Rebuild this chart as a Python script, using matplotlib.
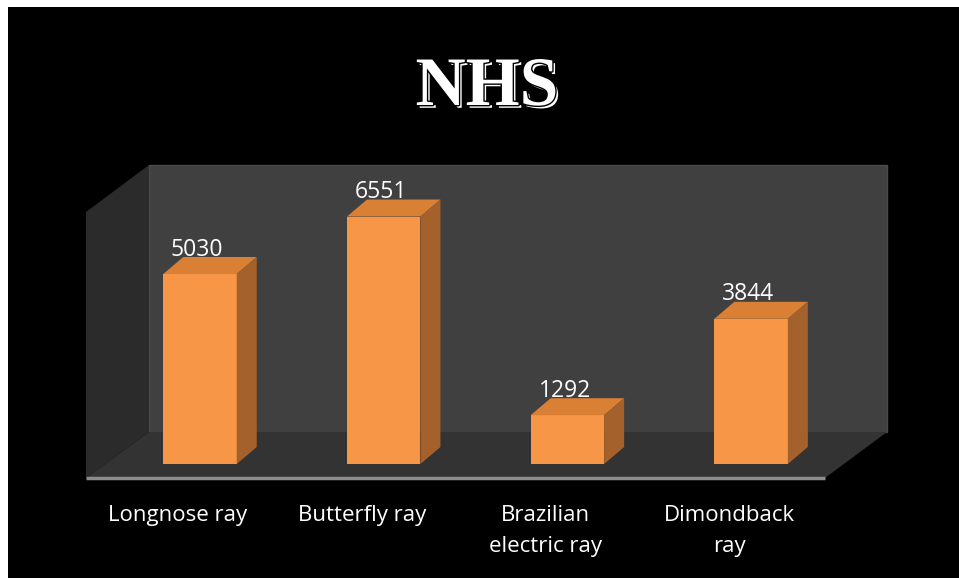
import matplotlib
matplotlib.use("Agg")
import matplotlib.pyplot as plt
from matplotlib.patches import Polygon
import matplotlib.patheffects as pe

# ---- data ----
categories = ["Longnose ray", "Butterfly ray", "Brazilian\nelectric ray", "Dimondback\nray"]
values = [5030, 6551, 1292, 3844]
title = "NHS"

# ---- layout (pixel geometry of the pseudo-3D frame) ----
W, H = 959, 578
PX_PER_CAT = 183.7          # pixels between category centres
UNITS_PER_PX = 5030 / 190   # value units per vertical pixel
X0_PX, Y0_PX = 200, 464     # pixel position of category 0 at value 0

def px2d(px, py):
    return ((px - X0_PX) / PX_PER_CAT, (Y0_PX - py) * UNITS_PER_PX)

fig = plt.figure(figsize=(W / 100, H / 100), dpi=100)
fig.patch.set_facecolor("white")
ax = fig.add_axes([8 / W, 0, (W - 8) / W, (H - 7) / H])
ax.set_facecolor("black")
x_lo, y_lo = px2d(8, H)
x_hi, y_hi = px2d(W, 7)
ax.set_xlim(x_lo, x_hi)
ax.set_ylim(y_lo, y_hi)
ax.axis("off")
ax.add_patch(plt.Rectangle((x_lo, y_lo), x_hi - x_lo, y_hi - y_lo, color="black", zorder=0))

# walls and floor
back = [px2d(149, 165), px2d(887, 165), px2d(887, 432), px2d(149, 432)]
left = [px2d(86, 212), px2d(149, 165), px2d(149, 432), px2d(86, 478)]
floor = [px2d(86, 478), px2d(825, 478), px2d(887, 432), px2d(149, 432)]
ax.add_patch(Polygon(back, closed=True, facecolor="#404040", edgecolor="#4a4a4a", lw=1, zorder=1))
ax.add_patch(Polygon(left, closed=True, facecolor="#2b2b2b", edgecolor="none", zorder=1))
ax.add_patch(Polygon(floor, closed=True, facecolor="#333333", edgecolor="none", zorder=1))
xa, ya = px2d(86, 478)
xb, _ = px2d(825, 478)
ax.plot([xa, xb], [ya, ya], color="#8c8c8c", lw=2.5, solid_capstyle="butt", zorder=2)

# bars
bar_w = 0.4
dx = 20 / PX_PER_CAT
dy = 17 * UNITS_PER_PX
front_c, top_c, side_c = "#F79646", "#D98035", "#A5612C"
xs = list(range(len(values)))
ax.bar(xs, values, width=bar_w, color=front_c, zorder=3)
for x, v in zip(xs, values):
    l, r = x - bar_w / 2, x + bar_w / 2
    ax.add_patch(Polygon([(l, v), (r, v), (r + dx, v + dy), (l + dx, v + dy)],
                         closed=True, facecolor=top_c, edgecolor="none", zorder=3))
    ax.add_patch(Polygon([(r, 0), (r + dx, dy), (r + dx, v + dy), (r, v)],
                         closed=True, facecolor=side_c, edgecolor="none", zorder=3))
    ax.text(x - 0.015, v + dy + 1.5 * UNITS_PER_PX, f"{v}", color="white",
            fontsize=16.5, family="Open Sans", ha="center", va="baseline", zorder=4)

# category labels
_, ylab = px2d(0, 505)
for x, c in zip(xs, categories):
    ax.text(x - 0.12, ylab, c, color="white", fontsize=16, family="Open Sans",
            ha="center", va="top", linespacing=1.6, zorder=4)

# title
tx, ty = px2d(487, 88)
ax.text(tx, ty, title, color="white", fontsize=50, family="Liberation Serif",
        weight="bold", ha="center", va="center", zorder=4,
        path_effects=[pe.SimplePatchShadow(offset=(2, -2), shadow_rgbFace="white", alpha=1),
                      pe.Stroke(linewidth=2, foreground="black"),
                      pe.Normal()])

fig.savefig("out.png", dpi=100, facecolor=fig.get_facecolor())
